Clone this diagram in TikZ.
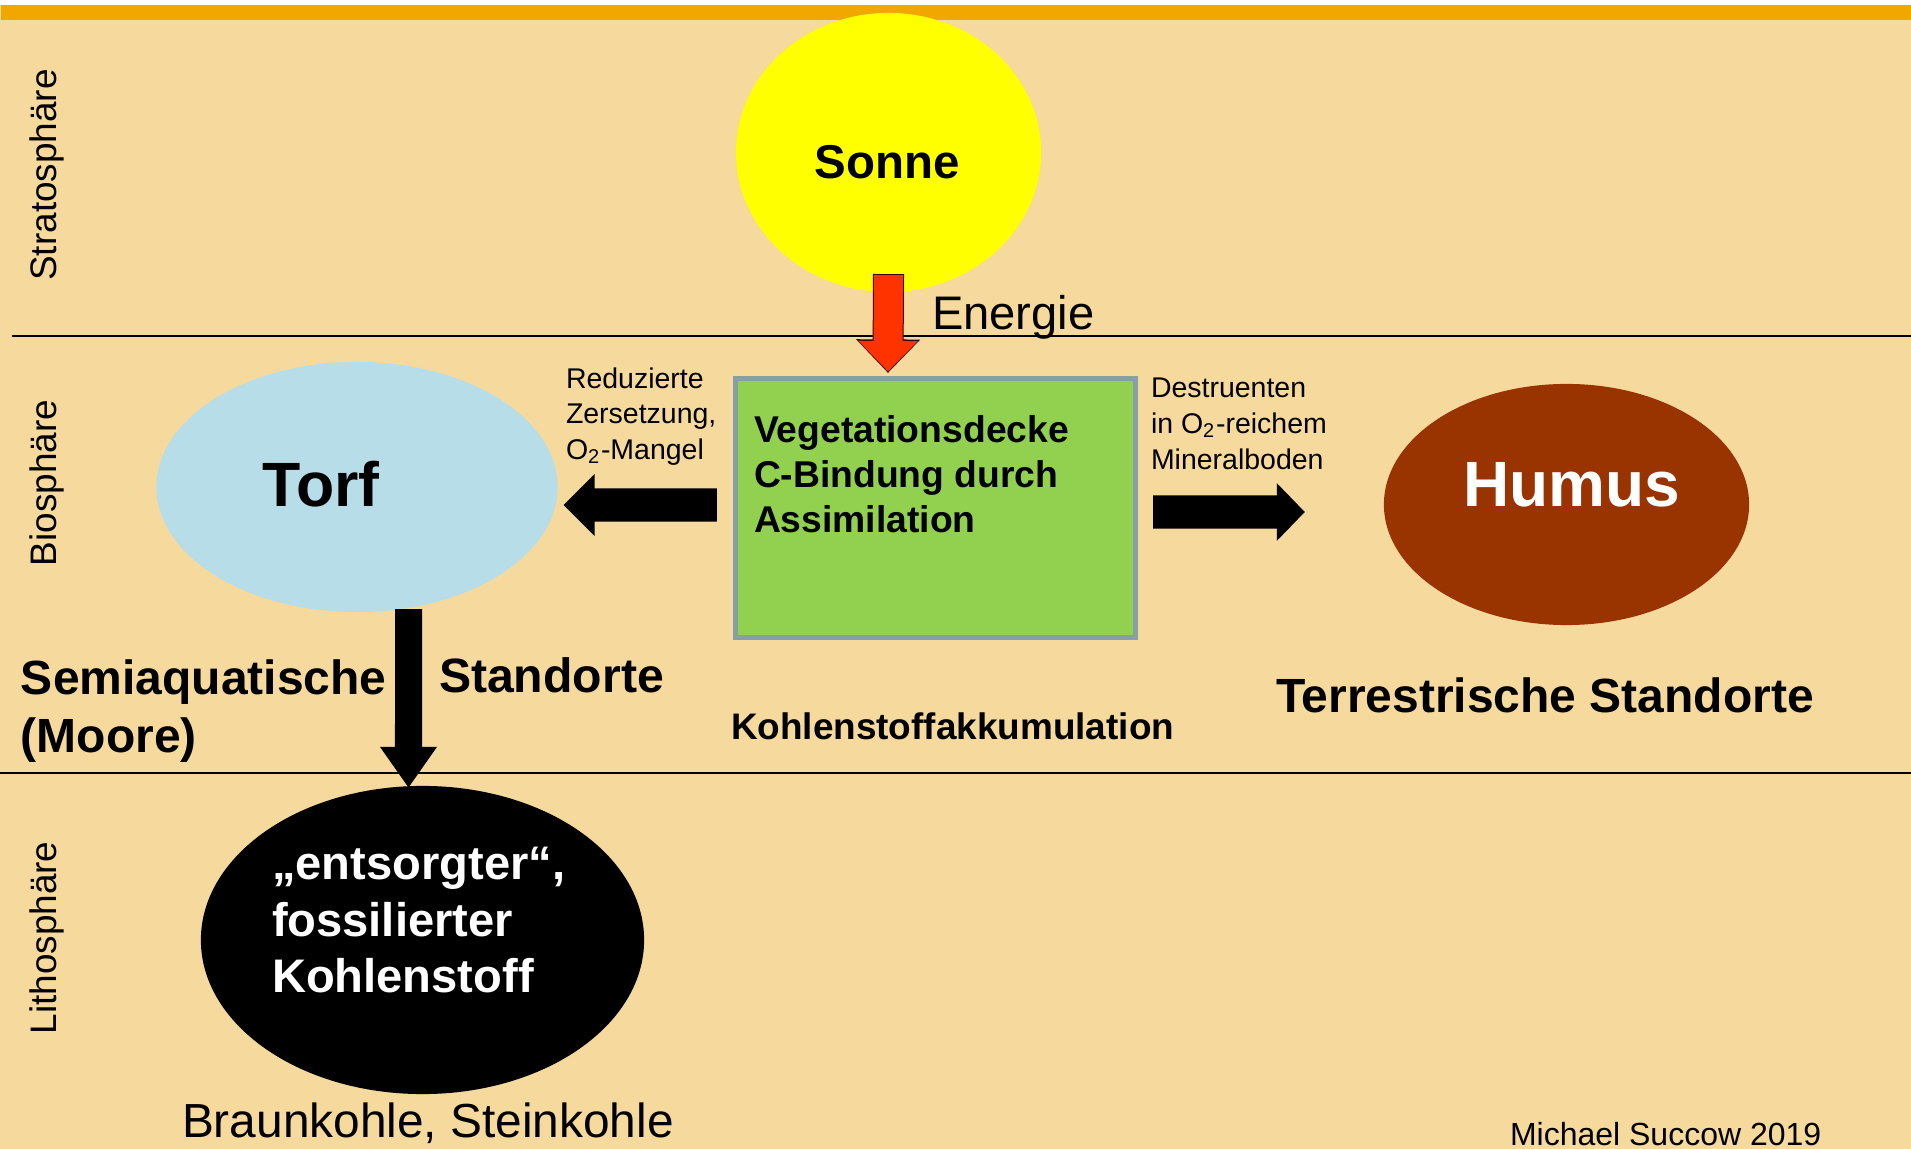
\documentclass[tikz,border=0pt]{standalone}
\usepackage{fontspec}
\setmainfont{Liberation Sans}
\usetikzlibrary{shapes.geometric,arrows.meta}
\definecolor{sand}{RGB}{246,217,156}
\definecolor{balken}{RGB}{240,168,0}
\definecolor{sonnengelb}{RGB}{255,255,0}
\definecolor{torfblau}{RGB}{183,222,232}
\definecolor{humusbraun}{RGB}{153,51,0}
\definecolor{blattgruen}{RGB}{146,208,80}
\definecolor{rahmen}{RGB}{134,160,165}
\definecolor{energierot}{RGB}{255,51,0}
\newcommand{\fs}[2]{\fontsize{#1}{#2}\selectfont}
\begin{document}
\begin{tikzpicture}[x=0.01cm,y=-0.01cm,
  oval/.style={ellipse,inner sep=0,outer sep=0},
  txt/.style={inner sep=0,outer sep=0},
  dickpfeil/.style n args={3}{line width=#1,-{Triangle[width=#2,length=#3]}}]
\useasboundingbox (0,0) rectangle (1911,1149);
\clip (0,0) rectangle (1911,1149);
% hintergrund
\fill[sand] (0,0) rectangle (1911,1149);
\fill[white] (0,0) rectangle (1911,5);
\fill[balken] (1,5) rectangle (1911,20);
\draw[line width=0.5pt] (12,336) -- (1911,336);
\draw[line width=0.5pt] (0,773) -- (1911,773);
% sphaeren
\node[txt,rotate=90,anchor=base,font=\fs{10.5}{12}] (strato) at (57,175) {Stratosphäre};
\node[txt,rotate=90,anchor=base,font=\fs{10.5}{12}] (bio) at (57,483) {Biosphäre};
\node[txt,rotate=90,anchor=base,font=\fs{10.5}{12}] (litho) at (57,938) {Lithosphäre};
% knoten
\node[oval,fill=sonnengelb,minimum width=3.05cm,minimum height=2.79cm] (sonne) at (888.5,152.5) {};
\node[txt,anchor=base,font=\fs{13.5}{16}\bfseries] (sonnetxt) at (887,179) {Sonne};
\node[draw=rahmen,line width=0.05cm,fill=blattgruen,inner sep=0,minimum width=4cm,minimum height=2.59cm] (veg) at (935.5,508) {};
\node[txt,anchor=north west,align=left,font=\fs{10.6}{12.8}\bfseries] (vegtxt) at (754,415.5) {Vegetationsdecke\\C-Bindung durch\\Assimilation};
\node[oval,fill=torfblau,minimum width=4.01cm,minimum height=2.5cm] (torf) at (357,487) {};
\node[txt,anchor=base,font=\fs{17.8}{20}\bfseries] (torftxt) at (321,507) {Torf};
\node[oval,fill=humusbraun,minimum width=3.65cm,minimum height=2.41cm] (humus) at (1566.5,504.5) {};
\node[txt,anchor=base,text=white,font=\fs{18.2}{20}\bfseries] (humustxt) at (1572,507) {Humus};
\node[oval,fill=black,minimum width=4.43cm,minimum height=3.08cm] (kohle) at (422.5,940) {};
\node[txt,anchor=north west,align=left,text=white,font=\fs{13.4}{16.1}\bfseries] (kohletxt) at (272,847) {„entsorgter“,\\fossilierter\\Kohlenstoff};
% beschriftungen
\node[txt,anchor=base west,font=\fs{13.4}{16}] (energie) at (932,330) {Energie};
\node[txt,anchor=north west,align=left,font=\fs{8.1}{10.1}] (reduziert) at (566,367.6) {Reduzierte\\Zersetzung,\\O\textsubscript{2}-Mangel};
\node[txt,anchor=north west,align=left,font=\fs{8.1}{10.25}] (destruent) at (1151,377.6) {Destruenten\\in O\textsubscript{2}-reichem\\Mineralboden};
\node[txt,anchor=north west,align=left,font=\fs{13.65}{16.4}\bfseries] (semi) at (21,660) {Semiaquatische\\(Moore)};
\node[txt,anchor=base west,font=\fs{13.7}{16}\bfseries] (stand) at (439,693) {Standorte};
\node[txt,anchor=base west,font=\fs{10.5}{12}\bfseries] (akku) at (731,740) {Kohlenstoffakkumulation};
\node[txt,anchor=base west,font=\fs{13.65}{16}\bfseries] (terr) at (1276,712) {Terrestrische Standorte};
\node[txt,anchor=base west,font=\fs{13.6}{16}] (braun) at (182,1137) {Braunkohle, Steinkohle};
\node[txt,anchor=base west,font=\fs{9.1}{11}] (autor) at (1510,1145) {Michael Succow 2019};
% pfeile
\draw[dickpfeil={0.31cm}{0.62cm}{0.335cm},draw=black!75!red] ([yshift=0.18cm]sonne.south) -- ([xshift=-0.475cm,yshift=0.03cm]veg.north);
\draw[dickpfeil={0.29cm}{0.575cm}{0.305cm},draw=energierot] ([yshift=0.17cm]sonne.south) -- ([xshift=-0.475cm,yshift=0.045cm]veg.north);
\draw[dickpfeil={0.33cm}{0.6cm}{0.31cm}] ([xshift=-0.16cm,yshift=0.03cm]veg.west) -- ([xshift=0.06cm,yshift=-0.18cm]torf.east);
\draw[dickpfeil={0.33cm}{0.56cm}{0.28cm}] ([xshift=0.15cm,yshift=-0.04cm]veg.east) -- ([xshift=-0.79cm,yshift=-0.075cm]humus.west);
\draw[dickpfeil={0.27cm}{0.54cm}{0.41cm}] ([xshift=0.515cm,yshift=0.03cm]torf.south) -- ([xshift=-0.14cm,yshift=-0.02cm]kohle.north);
\end{tikzpicture}
\end{document}
